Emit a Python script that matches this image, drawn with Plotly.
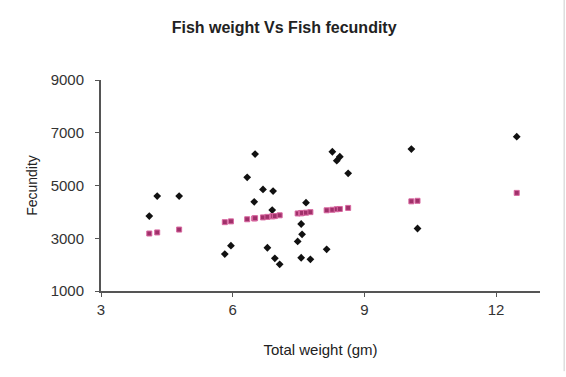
import plotly.graph_objects as go

# Observed data (Total weight, Fecundity)
weight = [4.10, 4.28, 4.78, 5.82, 5.96, 6.33, 6.49, 6.51, 6.69, 6.79, 6.90, 6.92, 6.96, 7.07,
          7.48, 7.56, 7.56, 7.58, 7.67, 7.77, 8.14, 8.27, 8.37, 8.44, 8.63, 10.07, 10.21, 12.47]
fecundity = [3840, 4600, 4600, 2400, 2720, 5310, 4380, 6190, 4850, 2640, 4070, 4790, 2240, 2010,
             2880, 3540, 2260, 3150, 4350, 2200, 2580, 6280, 5940, 6090, 5460, 6380, 3370, 6850]

# Predicted fecundity (pink series)
predicted = [3180, 3220, 3330, 3610, 3640, 3720, 3750, 3760, 3790, 3810, 3830, 3840, 3840, 3870,
             3940, 3950, 3950, 3960, 3970, 3990, 4060, 4080, 4100, 4110, 4150, 4400, 4420, 4720]

x_ticks = [3, 6, 9, 12]
y_ticks = [1000, 3000, 5000, 7000, 9000]

fig = go.Figure()
fig.add_trace(go.Scatter(x=weight, y=fecundity, mode="markers",
                         marker=dict(symbol="diamond", size=6, color="#111111"),
                         name="Fecundity"))
fig.add_trace(go.Scatter(x=weight, y=predicted, mode="markers",
                         marker=dict(symbol="square", size=5, color="#a0306a",
                                     line=dict(width=1, color="#d868a0")),
                         name="Predicted"))

fig.update_layout(
    width=566, height=377,
    margin=dict(l=101, r=26, t=80, b=86),
    paper_bgcolor="white", plot_bgcolor="white",
    showlegend=False,
    font=dict(family="Liberation Sans, Arial, sans-serif", color="#222222", size=14),
    title=dict(text="<b>Fish weight Vs Fish fecundity</b>", xref="container", x=0.502,
               xanchor="center", y=0.928, yanchor="middle",
               font=dict(size=16, color="#222222")),
    xaxis=dict(range=[3, 13], tickvals=x_ticks, ticktext=[str(v) for v in x_ticks],
               showgrid=False, zeroline=False, showline=True, linecolor="#555555", linewidth=2,
               ticks="outside", ticklen=4, tickcolor="#555555",
               title=dict(text="Total weight (gm)", font=dict(size=15), standoff=27),
               tickfont=dict(size=15, color="#333333")),
    yaxis=dict(range=[1000, 9000], tickvals=y_ticks, ticktext=[str(v) for v in y_ticks],
               showgrid=False, zeroline=False, showline=True, linecolor="#555555", linewidth=2,
               ticks="outside", ticklen=4, tickcolor="#555555", ticklabelstandoff=8,
               title=dict(text="Fecundity", font=dict(size=14), standoff=10),
               tickfont=dict(size=15, color="#333333")),
)
fig.add_shape(type="line", xref="paper", yref="paper", x0=1.055, x1=1.055, y0=-0.38, y1=1.38,
              line=dict(color="#cccccc", width=1))

fig.write_html("out.html")
